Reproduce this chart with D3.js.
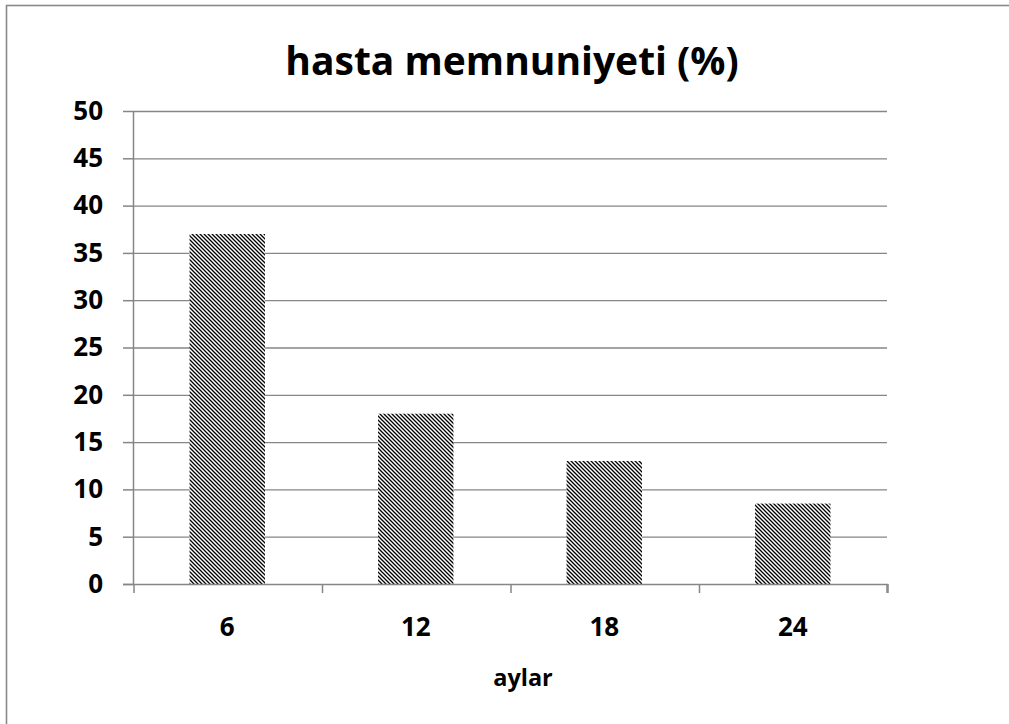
<!DOCTYPE html>
<html>
<head>
<meta charset="utf-8">
<script src="https://cdn.jsdelivr.net/npm/d3@7"></script>
<style>
  body { margin: 0; background: #fff; }
  svg { display: block; font-family: "Open Sans", "Noto Sans", sans-serif; }
</style>
</head>
<body>
<svg id="chart"></svg>
<script>
const months = ['6', '12', '18', '24'];
const satisfaction = [37, 18, 13, 8.5];
const yTicks = [0, 5, 10, 15, 20, 25, 30, 35, 40, 45, 50];

const W = 1009, H = 724;
const margin = { top: 111, right: 122, bottom: 140, left: 133 };
const width = W - margin.left - margin.right;
const height = H - margin.top - margin.bottom;

const svg = d3.select('#chart').attr('width', W).attr('height', H);

// hatch pattern for bars
const defs = svg.append('defs');
const pat = defs.append('pattern')
  .attr('id', 'hatch')
  .attr('patternUnits', 'userSpaceOnUse')
  .attr('width', 4).attr('height', 4);
pat.append('rect').attr('width', 4).attr('height', 4).attr('fill', '#fff');
pat.append('path').attr('d', 'M-1,-1 L5,5 M3,-1 L5,1 M-1,3 L1,5')
  .attr('stroke', '#000').attr('stroke-width', 1.3);

// outer frame (only top and left edges fall inside the picture)
svg.append('rect')
  .attr('x', 6.5).attr('y', 5.5).attr('width', 1100).attr('height', 1000)
  .attr('fill', 'none').attr('stroke', '#898989').attr('stroke-width', 1.6);

svg.append('text')
  .attr('x', 512).attr('y', 75)
  .attr('text-anchor', 'middle')
  .attr('font-size', 39).attr('font-weight', 'bold')
  .text('hasta memnuniyeti (%)');

const g = svg.append('g').attr('transform', `translate(${margin.left},${margin.top})`);

const x = d3.scaleBand().domain(months).range([0, width]).paddingInner(0.6).paddingOuter(0.3);
const y = d3.scaleLinear().domain([0, 50]).range([height, 0]);

// gridlines
g.selectAll('.grid').data(yTicks.slice(1)).enter().append('line')
  .attr('x1', 0).attr('x2', width)
  .attr('y1', d => y(d) + 0.5).attr('y2', d => y(d) + 0.5)
  .attr('stroke', '#868686').attr('stroke-width', 1.3);

// bars
g.selectAll('.bar').data(satisfaction).enter().append('rect')
  .attr('x', (d, i) => x(months[i]))
  .attr('y', d => y(d))
  .attr('width', x.bandwidth())
  .attr('height', d => height - y(d))
  .attr('fill', 'url(#hatch)');

// y axis
const yAxis = g.append('g')
  .call(d3.axisLeft(y).tickValues(yTicks).tickSize(10).tickPadding(20));
// x axis
const xEdges = d3.scaleLinear().domain([0, months.length]).range([0, width]);
const xAxis = g.append('g').attr('transform', `translate(0,${height})`)
  .call(d3.axisBottom(xEdges).tickValues(d3.range(months.length + 1)).tickSize(9).tickFormat(''));
xAxis.selectAll('.tick line').attr('transform', 'translate(0.5,0)');

[yAxis, xAxis].forEach(a => {
  a.select('.domain').attr('stroke', '#868686').attr('stroke-width', 1.5);
  a.selectAll('.tick line').attr('stroke', '#868686').attr('stroke-width', 1.5);
});
yAxis.select('.domain').attr('d', `M0.5,0V${height}`);
yAxis.selectAll('.tick text')
  .attr('font-size', 26).attr('font-weight', 'bold').attr('fill', '#000')
  .attr('font-family', '"Open Sans", sans-serif');
xAxis.select('.domain').attr('d', `M-10,0.5H${width}V9`);

g.selectAll('.xlabel').data(months).enter().append('text')
  .attr('x', d => x(d) + x.bandwidth() / 2)
  .attr('y', height + 52)
  .attr('text-anchor', 'middle')
  .attr('font-size', 26).attr('font-weight', 'bold')
  .text(d => d);

svg.append('text')
  .attr('x', 523).attr('y', 686)
  .attr('text-anchor', 'middle')
  .attr('font-size', 23.5).attr('font-weight', 'bold')
  .text('aylar');
</script>
</body>
</html>
